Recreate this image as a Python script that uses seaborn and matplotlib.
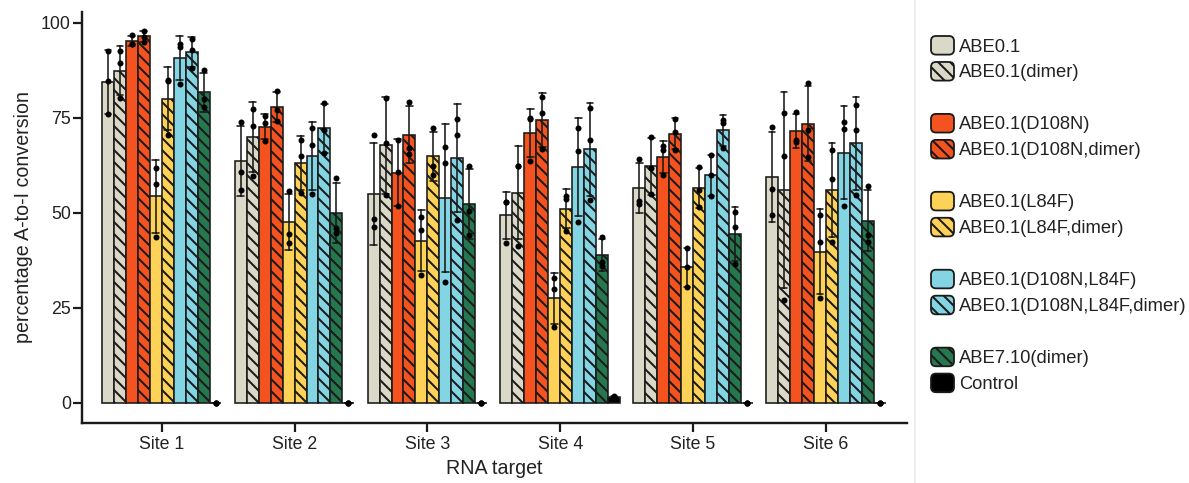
import numpy as np
import pandas as pd
import matplotlib
matplotlib.use("Agg")
import matplotlib.pyplot as plt
import seaborn as sns
from matplotlib.patches import Patch, FancyBboxPatch
from matplotlib.legend_handler import HandlerPatch
from matplotlib.lines import Line2D

# ---------------- data ----------------
sites = ["Site 1", "Site 2", "Site 3", "Site 4", "Site 5", "Site 6"]
constructs = [
    "ABE0.1", "ABE0.1(dimer)",
    "ABE0.1(D108N)", "ABE0.1(D108N,dimer)",
    "ABE0.1(L84F)", "ABE0.1(L84F,dimer)",
    "ABE0.1(D108N,L84F)", "ABE0.1(D108N,L84F,dimer)",
    "ABE7.10(dimer)", "Control",
]
colors = ["#DAD9C7", "#DAD9C7", "#F4521F", "#F4521F", "#FDD257", "#FDD257",
          "#84D5E3", "#84D5E3", "#25774F", "#000000"]
hatched = [False, True, False, True, False, True, False, True, True, False]

# three replicates per site (percentage A-to-I conversion)
abe01 = [[92.7, 84.6, 76.1], [73.9, 60.9, 56.1], [70.5, 48.3, 46.4],
         [53.0, 52.8, 42.2], [64.1, 53.2, 52.4], [72.7, 56.2, 49.5]]
abe01_dimer = [[92.5, 89.6, 80.3], [77.3, 72.9, 59.6], [80.2, 68.5, 54.7],
               [62.4, 62.4, 41.3], [69.9, 61.8, 55.0], [76.2, 65.0, 27.1]]
d108n = [[96.8, 94.6, 94.5], [75.4, 73.8, 69.0], [69.2, 60.9, 51.8],
         [74.9, 74.7, 63.8], [67.6, 66.5, 60.0], [76.7, 69.2, 68.8]]
d108n_dimer = [[98.0, 96.4, 95.1], [82.1, 77.1, 74.3], [79.3, 67.0, 65.5],
               [80.4, 76.4, 66.7], [74.6, 71.4, 66.6], [84.1, 71.7, 64.8]]
l84f = [[61.8, 57.6, 43.6], [55.9, 44.5, 42.2], [49.0, 45.5, 33.7],
        [32.8, 29.9, 19.9], [40.7, 35.7, 30.6], [49.5, 42.4, 27.6]]
l84f_dimer = [[85.0, 84.6, 70.5], [69.2, 65.0, 55.2], [72.3, 62.4, 60.0],
              [54.5, 53.6, 45.3], [62.0, 56.0, 51.5], [66.6, 58.9, 42.4]]
d108n_l84f = [[94.6, 93.8, 84.0], [72.3, 67.9, 55.0], [67.3, 63.1, 31.7],
              [72.3, 66.4, 47.7], [65.3, 60.0, 54.5], [74.0, 72.0, 51.7]]
d108n_l84f_dimer = [[95.9, 92.9, 88.1], [79.0, 71.8, 65.9], [74.6, 70.5, 48.2],
                    [77.5, 69.2, 53.4], [74.5, 73.8, 67.0], [78.4, 71.8, 54.7]]
abe710_dimer = [[87.5, 80.0, 77.8], [59.1, 46.0, 44.7], [62.4, 50.6, 44.2],
                [43.6, 37.2, 35.9], [50.2, 46.4, 36.5], [57.1, 44.2, 42.4]]
control = [[0, 0, 0], [0, 0, 0], [0, 0, 0],
           [1.2, 1.8, 1.5], [0, 0, 0], [0, 0, 0]]

series = [abe01, abe01_dimer, d108n, d108n_dimer, l84f, l84f_dimer,
          d108n_l84f, d108n_l84f_dimer, abe710_dimer, control]

rows = []
for name, reps in zip(constructs, series):
    for site, vals in zip(sites, reps):
        for v in vals:
            rows.append({"site": site, "construct": name, "value": v})
df = pd.DataFrame(rows)

# ---------------- style ----------------
DPI = 144
HATCH = "\\\\\\\\"
sns.set_theme(style="ticks")
plt.rcParams["font.family"] = ["Liberation Sans", "DejaVu Sans"]
plt.rcParams["hatch.linewidth"] = 1.0
plt.rcParams["hatch.color"] = "#1a1a1a"
TXT = "#222222"
FS_TICK = 8.9
FS_LAB = 9.8
FS_LEG = 9.2

fig = plt.figure(figsize=(1189 / DPI, 483 / DPI), dpi=DPI)
ax = fig.add_axes([82 / 1189, 60 / 483, 825 / 1189, 411.4 / 483])

sns.barplot(data=df, x="site", y="value", hue="construct",
            order=sites, hue_order=constructs, palette=colors,
            errorbar="sd", capsize=0.5, width=0.9,
            err_kws={"linewidth": 0.8, "color": "#1a1a1a"},
            edgecolor="#1a1a1a", linewidth=0.8, saturation=1,
            legend=False, ax=ax)

nsite = len(sites)
bars = ax.patches[: len(constructs) * nsite]
for i, h in enumerate(hatched):
    for j in range(nsite):
        if h:
            bars[i * nsite + j].set_hatch(HATCH)

# individual replicate points at each bar centre
for i, reps in enumerate(series):
    for j in range(nsite):
        p = bars[i * nsite + j]
        cx = p.get_x() + p.get_width() / 2
        ax.scatter([cx] * len(reps[j]), reps[j], s=9, color="black",
                   zorder=5, linewidths=0)

ax.set_xlim(-0.60, 5.61)
ax.set_ylim(-5.3, 103)
ax.set_yticks([0, 25, 50, 75, 100])
ax.set_xlabel("RNA target", fontsize=FS_LAB, color=TXT, labelpad=3)
ax.set_ylabel("percentage A-to-I conversion", fontsize=FS_LAB, color=TXT, labelpad=4)
ax.tick_params(axis="both", labelsize=FS_TICK, colors="#1a1a1a", labelcolor=TXT,
               width=1.1, length=4.5)
ax.tick_params(axis="y", pad=1)
ax.tick_params(axis="x", pad=2)
for s in ["left", "bottom"]:
    ax.spines[s].set_linewidth(1.2)
    ax.spines[s].set_color("#1a1a1a")
sns.despine(ax=ax)


# ---------------- legend ----------------
def round_box(legend, orig_handle, xdescent, ydescent, width, height, fontsize):
    return FancyBboxPatch((-xdescent, -ydescent), width, height,
                          boxstyle="round,pad=0,rounding_size=2.5")


handles, labels = [], []
groups = [[0, 1], [2, 3], [4, 5], [6, 7], [8, 9]]
for gi, g in enumerate(groups):
    for k in g:
        handles.append(Patch(facecolor=colors[k], edgecolor="#1a1a1a",
                             linewidth=0.9, hatch=HATCH if hatched[k] else None))
        labels.append(constructs[k])
    if gi < len(groups) - 1:
        handles.append(Patch(facecolor="none", edgecolor="none"))
        labels.append("")

fig.legend(handles, labels, loc="upper left",
           bbox_to_anchor=(931 / 1189, 1 - 36 / 483),
           bbox_transform=fig.transFigure, frameon=False,
           fontsize=FS_LEG, labelcolor=TXT,
           handlelength=1.25, handleheight=1.18, handletextpad=0.28,
           labelspacing=0.35, borderpad=0, borderaxespad=0,
           handler_map={Patch: HandlerPatch(patch_func=round_box)})

fig.add_artist(Line2D([915 / 1189, 915 / 1189], [0, 1], transform=fig.transFigure,
                      color="#EBEBEB", linewidth=0.8))

fig.savefig("out.png", dpi=DPI)
